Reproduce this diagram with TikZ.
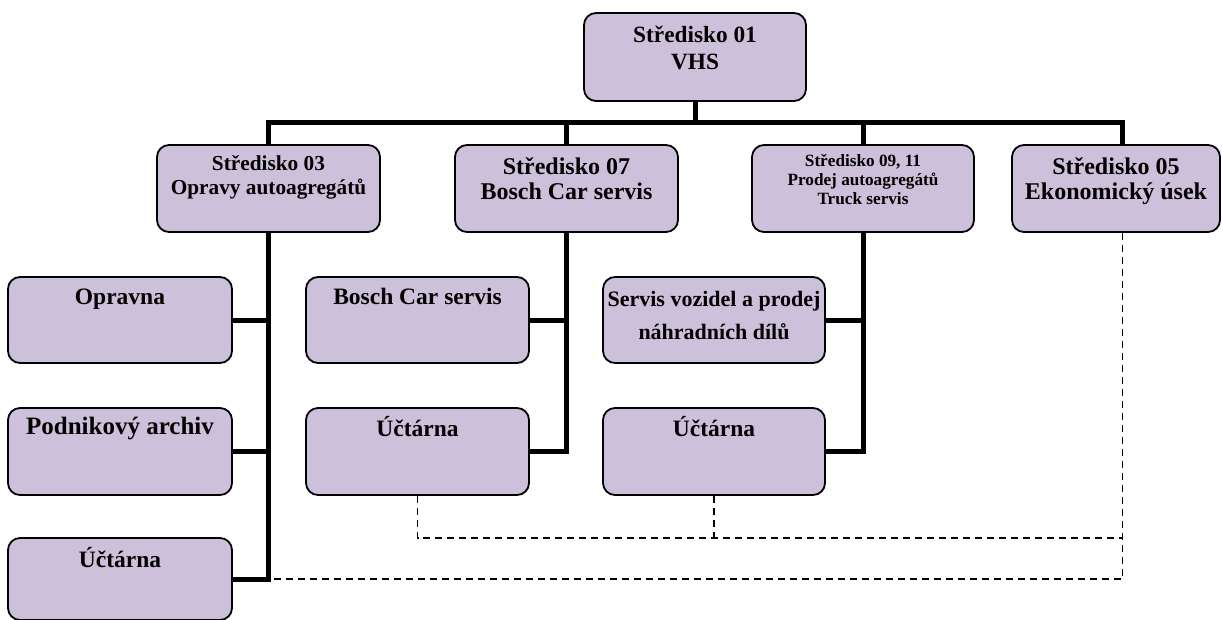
\documentclass[tikz,border=0pt]{standalone}
\usepackage{fontspec}
\setmainfont{Liberation Serif}
\definecolor{boxfill}{RGB}{204,192,218}
\newcommand{\fs}[2]{\fontsize{#1}{#2}\selectfont\bfseries}
\tikzset{
  unit/.style={draw, line width=1.8pt, fill=boxfill, rounded corners=12pt, inner sep=0pt},
  lbl/.style={anchor=base, align=center, inner sep=0pt},
  conn/.style={line width=5pt},
  dline/.style={line width=1.8pt, dash pattern=on 7pt off 5pt},
}
\begin{document}
\begin{tikzpicture}[x=1pt, y=-1pt]
    \useasboundingbox (0,0) rectangle (1222,620);
    % level 1
    \node[unit, minimum width=222pt, minimum height=88pt] (s01) at (695,57) {};
    \node[lbl, font=\fs{23.3}{27}] (s01t) at ([yshift=-57pt]s01.north) {Středisko 01\\VHS};
    % level 2
    \node[unit, minimum width=223pt, minimum height=87pt] (s03) at (268.5,188.5) {};
    \node[unit, minimum width=223pt, minimum height=87pt] (s07) at (566.5,188.5) {};
    \node[unit, minimum width=222pt, minimum height=87pt] (s09) at (863,188.5) {};
    \node[unit, minimum width=208pt, minimum height=87pt] (s05) at (1116,188.5) {};
    \node[lbl, font=\fs{21.3}{23.5}] (s03t) at ([yshift=-50pt]s03.north) {Středisko 03\\Opravy autoagregátů};
    \node[lbl, font=\fs{24}{25}] (s07t) at ([yshift=-55pt]s07.north) {Středisko 07\\Bosch Car servis};
    \node[lbl, font=\fs{17.2}{19}] (s09t) at ([yshift=-60pt]s09.north) {Středisko 09, 11\\Prodej autoagregátů\\Truck servis};
    \node[lbl, font=\fs{24}{25}] (s05t) at ([yshift=-55pt]s05.north) {Středisko 05\\Ekonomický úsek};
    % level 3
    \node[unit, minimum width=224pt, minimum height=86pt] (opravna) at (120,320) {};
    \node[unit, minimum width=224pt, minimum height=87pt] (archiv) at (120,451.5) {};
    \node[unit, minimum width=224pt, minimum height=82pt] (uct03) at (120,579) {};
    \node[unit, minimum width=223pt, minimum height=86pt] (bosch) at (417.5,320) {};
    \node[unit, minimum width=223pt, minimum height=87pt] (uct07) at (417.5,451.5) {};
    \node[unit, minimum width=222pt, minimum height=86pt] (servis) at (714,320) {};
    \node[unit, minimum width=222pt, minimum height=87pt] (uct09) at (714,451.5) {};
    \node[lbl, font=\fs{23.5}{25}] (opravnat) at ([yshift=-28pt]opravna.north) {Opravna};
    \node[lbl, font=\fs{25}{26}] (archivt) at ([yshift=-27pt]archiv.north) {Podnikový archiv};
    \node[lbl, font=\fs{23.5}{25}] (uct03t) at ([yshift=-30pt]uct03.north) {Účtárna};
    \node[lbl, font=\fs{23.5}{25}] (boscht) at ([yshift=-28pt]bosch.north) {Bosch Car servis};
    \node[lbl, font=\fs{23.5}{25}] (uct07t) at ([yshift=-29pt]uct07.north) {Účtárna};
    \node[lbl, font=\fs{22}{33}] (servist) at ([yshift=-63pt]servis.north) {Servis vozidel a prodej\\náhradních dílů};
    \node[lbl, font=\fs{23.5}{25}] (uct09t) at ([yshift=-29pt]uct09.north) {Účtárna};
    % solid tree
    \coordinate (bus) at (695,123);
    \draw[conn] (s01.south) -- (bus);
    \draw[conn] (bus) -| (s03.north);
    \draw[conn] (bus) -| (s07.north);
    \draw[conn] (bus) -| (s09.north);
    \draw[conn] (bus) -| ([xshift=6.5pt]s05.north);
    \draw[conn] (s03.south) |- (opravna.east);
    \draw[conn] (s03.south) |- (archiv.east);
    \draw[conn] (s03.south) |- (uct03.east);
    \draw[conn] (s07.south) |- (bosch.east);
    \draw[conn] (s07.south) |- (uct07.east);
    \draw[conn] (s09.south) |- (servis.east);
    \draw[conn] (s09.south) |- (uct09.east);
    % dashed links
    \coordinate (dj) at (1122.5,538);
    \draw[dline] (uct07.south) |- (dj);
    \draw[dline] (uct09.south) -- (uct09.south |- dj);
    \draw[dline] ([xshift=6.5pt]s05.south) |- (uct03.east -| s03.south);
\end{tikzpicture}
\end{document}
